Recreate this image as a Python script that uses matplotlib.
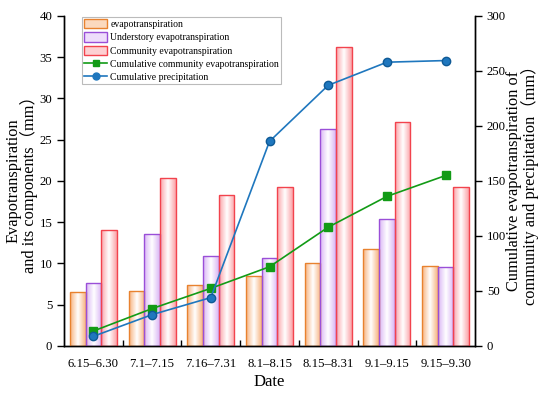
import numpy as np
import matplotlib
matplotlib.use('Agg')
import matplotlib.pyplot as plt
from matplotlib.colors import LinearSegmentedColormap
from matplotlib.patches import Patch
from matplotlib.lines import Line2D

plt.rcParams['font.family'] = ['Liberation Serif', 'Noto Sans CJK SC']

# Data
dates = ['6.15–6.30', '7.1–7.15', '7.16–7.31', '8.1–8.15', '8.15–8.31', '9.1–9.15', '9.15–9.30']
evap = [6.5, 6.7, 7.4, 8.5, 10.0, 11.8, 9.7]
understory = [7.6, 13.6, 10.9, 10.7, 26.3, 15.4, 9.6]
community = [14.1, 20.4, 18.3, 19.3, 36.3, 27.2, 19.3]
cum_community = [13.6, 34, 52.4, 72, 108, 136, 155]
cum_precip = [8.8, 28.5, 44, 186, 237, 258, 259.5]

x = np.arange(len(dates))
w = 0.267

fig = plt.figure(figsize=(5.5, 3.96), dpi=100)
ax1 = fig.add_axes([0.1164, 0.1263, 0.7472, 0.8333])
ax2 = ax1.twinx()

bar_sets = [
    (evap, -w, '#E8822F', '#F7B37F'),
    (understory, 0, '#9A4FD8', '#D9B5F5'),
    (community, w, '#F2434D', '#FBA3A8'),
]

grad = np.linspace(0, 1, 64).reshape(1, -1)
for vals, off, edge, light in bar_sets:
    bars = ax1.bar(x + off, vals, width=w, facecolor='none', edgecolor=edge, linewidth=1.0, zorder=3)
    cmap = LinearSegmentedColormap.from_list('g', [light, 'white', light])
    for b in bars:
        x0, y0 = b.get_x(), b.get_y()
        im = ax1.imshow(grad, cmap=cmap, aspect='auto', zorder=2,
                        extent=[x0, x0 + b.get_width(), y0, y0 + b.get_height()])
        im.set_clip_path(b)

ax1.set_xlim(-0.5, len(dates) - 0.5)
ax1.set_ylim(0, 40)
ax1.set_yticks(np.arange(0, 41, 5))
ax1.set_xticks(x)
ax1.set_xticklabels(dates)
ax1.set_xticks(np.arange(0.5, len(dates) - 1, 1), minor=True)
ax1.tick_params(axis='x', which='major', length=0, labelsize=9.2, pad=9)
ax1.tick_params(axis='x', which='minor', direction='in', length=4, width=1)
ax1.tick_params(axis='y', direction='out', length=5, width=1, labelsize=9.2)
ax1.set_xlabel('Date', fontsize=12)
ax1.xaxis.set_label_coords(0.5, -0.085)
ax1.set_ylabel('Evapotranspiration\nand its components（mm）', fontsize=11.8, linespacing=0.95,
               va='center')
ax1.yaxis.set_label_coords(-0.103, 0.5)

ax2.plot(x, cum_community, color='#129B16', marker='s', markersize=6, linewidth=1.2, zorder=4)
ax2.plot(x, cum_precip, color='#1F77BE', marker='o', markersize=6, linewidth=1.2, zorder=4,
         markerfacecolor='#1F77BE', markeredgecolor='#0F5A96')
ax2.set_ylim(0, 300)
ax2.set_yticks(np.arange(0, 301, 50))
ax2.tick_params(axis='y', direction='out', length=5, width=1, labelsize=9.2)
ax2.set_ylabel('Cumulative evapotranspiration of\ncommunity and precipitation（mm）', fontsize=11.8,
               linespacing=0.95, va='center')
ax2.yaxis.set_label_coords(1.1156, 0.5)

for a in (ax1, ax2):
    a.spines['top'].set_visible(False)
    for s in ('left', 'right', 'bottom'):
        a.spines[s].set_linewidth(1.0)

handles = [
    Patch(facecolor='#FBD9BE', edgecolor='#E8822F', label='evapotranspiration'),
    Patch(facecolor='#EEDDFB', edgecolor='#9A4FD8', label='Understory evapotranspiration'),
    Patch(facecolor='#FDD0D2', edgecolor='#F2434D', label='Community evapotranspiration'),
    Line2D([], [], color='#129B16', marker='s', markersize=5, linewidth=1.2,
           label='Cumulative community evapotranspiration'),
    Line2D([], [], color='#1F77BE', marker='o', markersize=5, linewidth=1.2,
           label='Cumulative precipitation'),
]
leg = ax2.legend(handles=handles, loc='upper left', bbox_to_anchor=(0.044, 0.997), fontsize=7.0,
                 frameon=True, fancybox=False, edgecolor='#AAAAAA', borderpad=0.2,
                 labelspacing=0.35, handlelength=2.4, handleheight=1.1, handletextpad=0.3,
                 borderaxespad=0)
leg.get_frame().set_linewidth(0.8)

fig.savefig('out.png', dpi=100)
